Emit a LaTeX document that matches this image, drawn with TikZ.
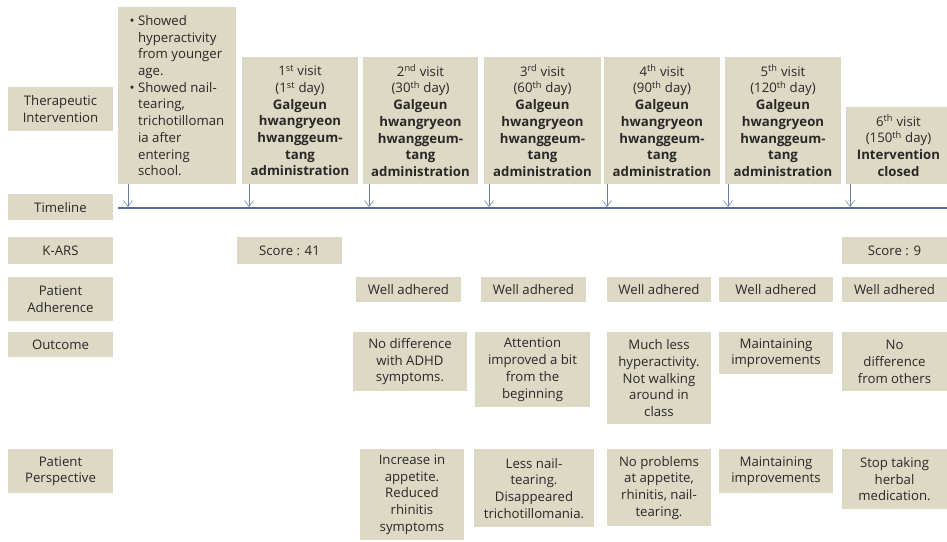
\documentclass[tikz,border=0pt]{standalone}
\usepackage{fontspec}
\setmainfont{Open Sans}
\usetikzlibrary{arrows.meta}
\definecolor{boxtan}{RGB}{221,217,196}
\definecolor{lineblue}{RGB}{84,108,158}
\definecolor{tickgray}{RGB}{112,128,160}
\definecolor{txtgray}{RGB}{40,40,40}
\newcommand{\hangsp}{\hphantom{\textbullet\ }}
\newcommand{\visit}[2]{#1\textsuperscript{#2}~visit}
\tikzset{
  cell/.style={fill=boxtan, text=txtgray, align=center, inner sep=0pt, anchor=north,
    font=\fontsize{13.2}{16.7}\selectfont},
  tick/.style={draw=tickgray, line width=0.6pt, -{Straight Barb[length=6pt,width=9pt]}},
}
\begin{document}
\begin{tikzpicture}[x=1pt,y=1pt,yscale=-1]
\useasboundingbox (0,0) rectangle (947,541);
% row labels
\node[cell, minimum width=105, minimum height=44] (lblTher) at (60.5,87) {Therapeutic\\Intervention};
\node[cell, minimum width=105, minimum height=26] (lblTime) at (60.5,194) {Timeline};
\node[cell, minimum width=105, minimum height=27] (lblKars) at (60.5,237) {K-ARS};
\node[cell, minimum width=105, minimum height=44] (lblAdh) at (60.5,277) {Patient\\Adherence};
\node[cell, minimum width=105, minimum height=25] (lblOut) at (60.5,332) {Outcome};
\node[cell, minimum width=105, minimum height=44] (lblPersp) at (60.5,449) {Patient\\Perspective};
% therapeutic intervention
\node[cell, align=left, minimum width=118, minimum height=177] (hist) at (177,7) {%
  \textbullet\ Showed\\\hangsp hyperactivity\\\hangsp from younger\\\hangsp age.\\
  \textbullet\ Showed nail-\\\hangsp tearing,\\\hangsp trichotilloman\\\hangsp ia after\\
  \hangsp entering\\\hangsp school.};
\node[cell, minimum width=116, minimum height=127] (v1) at (300,57) {\visit{1}{st}\\(1\textsuperscript{st} day)\\\textbf{Galgeun}\\\textbf{hwangryeon}\\\textbf{hwanggeum-}\\\textbf{tang}\\\textbf{administration}};
\node[cell, minimum width=115, minimum height=127] (v2) at (420.5,57) {\visit{2}{nd}\\(30\textsuperscript{th} day)\\\textbf{Galgeun}\\\textbf{hwangryeon}\\\textbf{hwanggeum-}\\\textbf{tang}\\\textbf{administration}};
\node[cell, minimum width=117, minimum height=127] (v3) at (542.5,57) {\visit{3}{rd}\\(60\textsuperscript{th} day)\\\textbf{Galgeun}\\\textbf{hwangryeon}\\\textbf{hwanggeum-}\\\textbf{tang}\\\textbf{administration}};
\node[cell, minimum width=116, minimum height=127] (v4) at (662,57) {\visit{4}{th}\\(90\textsuperscript{th} day)\\\textbf{Galgeun}\\\textbf{hwangryeon}\\\textbf{hwanggeum-}\\\textbf{tang}\\\textbf{administration}};
\node[cell, minimum width=116, minimum height=127] (v5) at (783,57) {\visit{5}{th}\\(120\textsuperscript{th} day)\\\textbf{Galgeun}\\\textbf{hwangryeon}\\\textbf{hwanggeum-}\\\textbf{tang}\\\textbf{administration}};
\node[cell, minimum width=105, minimum height=77] (v6) at (898.5,107) {\visit{6}{th}\\(150\textsuperscript{th} day)\\\textbf{Intervention}\\\textbf{closed}};
% timeline
\coordinate (tlStart) at (118,208);
\coordinate (tlEnd) at (947,208);
\draw[lineblue, line width=1.4pt] (tlStart) -- (tlEnd);
\foreach \b/\x in {hist/128, v1/249, v2/369, v3/489, v4/607, v5/728, v6/850}{
  \coordinate (t-\b) at (\x,207);
  \draw[tick] (\b.south -| t-\b) -- (t-\b);
}
% K-ARS
\node[cell, minimum width=105, minimum height=27] (s1) at (289.5,237) {Score : 41};
\node[cell, minimum width=105, minimum height=27] (s6) at (894.5,237) {Score : 9};
% adherence
\node[cell, minimum width=105, minimum height=25] (a2) at (408.5,277) {Well adhered};
\node[cell, minimum width=105, minimum height=25] (a3) at (533.5,277) {Well adhered};
\node[cell, minimum width=104, minimum height=25] (a4) at (659,277) {Well adhered};
\node[cell, minimum width=114, minimum height=25] (a5) at (776,277) {Well adhered};
\node[cell, minimum width=105, minimum height=25] (a6) at (894.5,277) {Well adhered};
% outcome
\node[cell, minimum width=114, minimum height=59] (o2) at (410,332) {No difference\\with ADHD\\symptoms.};
\node[cell, minimum width=115, minimum height=75] (o3) at (532.5,332) {Attention\\improved a bit\\from the\\beginning};
\node[cell, minimum width=104, minimum height=92] (o4) at (659,332) {Much less\\hyperactivity.\\Not walking\\around in\\class};
\node[cell, minimum width=114, minimum height=42] (o5) at (776,332) {Maintaining\\improvements};
\node[cell, minimum width=105, minimum height=59] (o6) at (894.5,332) {No\\difference\\from others};
% patient perspective
\node[cell, minimum width=104, minimum height=91] (p2) at (412,449) {Increase in\\appetite.\\Reduced\\rhinitis\\symptoms};
\node[cell, minimum width=120, minimum height=78] (p3) at (534,449) {Less nail-\\tearing.\\Disappeared\\trichotillomania.};
\node[cell, minimum width=104, minimum height=77] (p4) at (659,449) {No problems\\at appetite,\\rhinitis, nail-\\tearing.};
\node[cell, minimum width=114, minimum height=44] (p5) at (776,449) {Maintaining\\improvements};
\node[cell, minimum width=105, minimum height=60] (p6) at (894.5,449) {Stop taking\\herbal\\medication.};
\end{tikzpicture}
\end{document}
